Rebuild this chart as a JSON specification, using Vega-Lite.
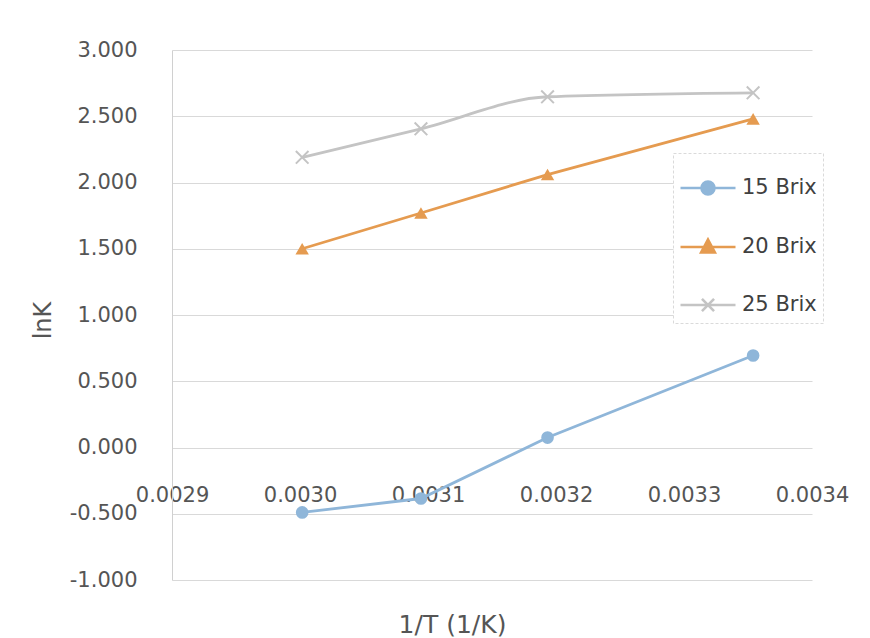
{
  "$schema": "https://vega.github.io/schema/vega-lite/v6.json",
  "width": 640,
  "height": 530,
  "autosize": {"type": "none"},
  "padding": {"left": 172, "top": 50, "right": 58, "bottom": 58},
  "background": "white",
  "config": {
    "font": "DejaVu Sans",
    "view": {"stroke": null},
    "axis": {"labelFont": "DejaVu Sans", "titleFont": "DejaVu Sans", "labelColor": "#555555", "titleColor": "#555555", "titleFontWeight": "normal"},
    "legend": {"labelFont": "DejaVu Sans", "strokeDash": [3, 2]}
  },
  "data": {
    "values": [
      {"invT": 0.0030017, "lnK": -0.490, "series": "15 Brix"},
      {"invT": 0.0030945, "lnK": -0.385, "series": "15 Brix"},
      {"invT": 0.0031934, "lnK": 0.075, "series": "15 Brix"},
      {"invT": 0.0033540, "lnK": 0.694, "series": "15 Brix"},
      {"invT": 0.0030017, "lnK": 1.500, "series": "20 Brix"},
      {"invT": 0.0030945, "lnK": 1.770, "series": "20 Brix"},
      {"invT": 0.0031934, "lnK": 2.060, "series": "20 Brix"},
      {"invT": 0.0033540, "lnK": 2.480, "series": "20 Brix"},
      {"invT": 0.0030017, "lnK": 2.190, "series": "25 Brix"},
      {"invT": 0.0030945, "lnK": 2.405, "series": "25 Brix"},
      {"invT": 0.0031934, "lnK": 2.647, "series": "25 Brix"},
      {"invT": 0.0033540, "lnK": 2.677, "series": "25 Brix"}
    ]
  },
  "encoding": {
    "x": {
      "field": "invT",
      "type": "quantitative",
      "title": "1/T (1/K)",
      "scale": {"domain": [0.0029, 0.0034], "nice": false, "zero": false},
      "axis": {
        "values": [0.0029, 0.003, 0.0031, 0.0032, 0.0033, 0.0034],
        "format": ".4f",
        "grid": false,
        "domain": false,
        "ticks": false,
        "tickSize": 0,
        "offset": -96,
        "labelPadding": 0,
        "labelFontSize": 21,
        "labelFlush": false,
        "titleFontSize": 25,
        "titleX": 280,
        "titleY": 148,
        "titleBaseline": "alphabetic"
      }
    },
    "y": {
      "field": "lnK",
      "type": "quantitative",
      "title": "lnK",
      "scale": {"domain": [-1, 3], "nice": false},
      "axis": {
        "values": [-1, -0.5, 0, 0.5, 1, 1.5, 2, 2.5, 3],
        "format": ".3f",
        "labelExpr": "replace(datum.label, '\u2212', '-')",
        "grid": true,
        "gridColor": "#d9d9d9",
        "gridWidth": 1,
        "domain": true,
        "domainColor": "#d0d0d0",
        "ticks": false,
        "tickSize": 0,
        "labelPadding": 35,
        "labelFontSize": 21,
        "titleFontSize": 24,
        "titleX": -122,
        "titleY": 270,
        "titleBaseline": "alphabetic"
      }
    }
  },
  "layer": [
    {
      "transform": [{"filter": "datum.series == '15 Brix'"}],
      "mark": {"type": "line", "strokeWidth": 2.8, "color": "#8fb6d9"},
      "encoding": {}
    },
    {
      "transform": [{"filter": "datum.series == '20 Brix'"}],
      "mark": {"type": "line", "strokeWidth": 2.8, "color": "#e59b50"},
      "encoding": {}
    },
    {
      "transform": [{"filter": "datum.series == '25 Brix'"}],
      "mark": {"type": "line", "strokeWidth": 2.8, "color": "#c4c4c4", "interpolate": "monotone"},
      "encoding": {}
    },
    {
      "transform": [{"filter": "datum.series == '15 Brix'"}],
      "mark": {"type": "point", "shape": "circle", "filled": true, "size": 160, "opacity": 1, "color": "#8fb6d9"}
    },
    {
      "transform": [{"filter": "datum.series == '20 Brix'"}],
      "mark": {"type": "point", "shape": "triangle-up", "filled": true, "size": 180, "opacity": 1, "color": "#e59b50"}
    },
    {
      "transform": [{"filter": "datum.series == '25 Brix'"}],
      "mark": {"type": "point", "shape": "M-1,-1L1,1M-1,1L1,-1", "filled": false, "size": 160, "strokeWidth": 2, "opacity": 1, "color": "#c4c4c4"}
    },
    {
      "description": "Key entries: a short line with the series marker on it",
      "mark": {"type": "point", "filled": true, "size": 0, "strokeWidth": 2.6, "opacity": 1},
      "encoding": {
        "shape": {
          "field": "series",
          "type": "nominal",
          "scale": {
            "domain": ["15 Brix", "20 Brix", "25 Brix"],
            "range": [
              "M-1,0H1M0.236,0A0.236,0.236,0,1,1,-0.236,0A0.236,0.236,0,1,1,0.236,0Z",
              "M-1,0H1M0,-0.27L0.25,0.2L-0.25,0.2Z",
              "M-1,0H1M-0.22,-0.22L0.22,0.22M-0.22,0.22L0.22,-0.22"
            ]
          },
          "legend": {
            "title": null,
            "orient": "none",
            "legendX": 501,
            "legendY": 103,
            "padding": 6,
            "fillColor": "white",
            "strokeColor": "#dadada",
            "symbolSize": 3025,
            "symbolStrokeWidth": 2.6,
            "symbolOpacity": 1,
            "labelOffset": 5,
            "labelFontSize": 21,
            "labelColor": "#404040",
            "rowPadding": 18
          }
        },
        "fill": {
          "field": "series",
          "type": "nominal",
          "scale": {"domain": ["15 Brix", "20 Brix", "25 Brix"], "range": ["#8fb6d9", "#e59b50", "#c4c4c4"]},
          "legend": {
            "title": null,
            "orient": "none",
            "legendX": 501,
            "legendY": 103,
            "padding": 6,
            "fillColor": "white",
            "strokeColor": "#dadada",
            "symbolSize": 3025,
            "symbolStrokeWidth": 2.6,
            "symbolOpacity": 1,
            "labelOffset": 5,
            "labelFontSize": 21,
            "labelColor": "#404040",
            "rowPadding": 18
          }
        },
        "stroke": {
          "field": "series",
          "type": "nominal",
          "scale": {"domain": ["15 Brix", "20 Brix", "25 Brix"], "range": ["#8fb6d9", "#e59b50", "#c4c4c4"]},
          "legend": {
            "title": null,
            "orient": "none",
            "legendX": 501,
            "legendY": 103,
            "padding": 6,
            "fillColor": "white",
            "strokeColor": "#dadada",
            "symbolSize": 3025,
            "symbolStrokeWidth": 2.6,
            "symbolOpacity": 1,
            "labelOffset": 5,
            "labelFontSize": 21,
            "labelColor": "#404040",
            "rowPadding": 18
          }
        }
      }
    }
  ]
}
